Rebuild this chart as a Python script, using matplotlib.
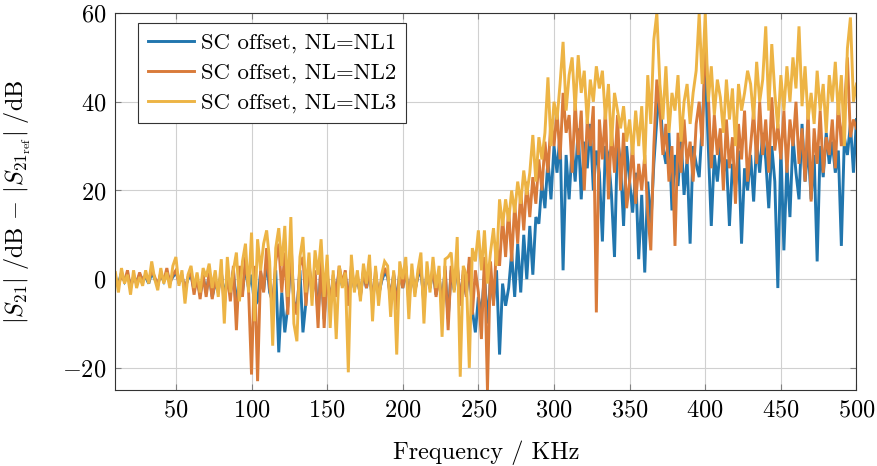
import numpy as np
import matplotlib
matplotlib.use("Agg")
import matplotlib.pyplot as plt

plt.rcParams['font.family'] = ['cmr10', 'DejaVu Serif']
plt.rcParams['mathtext.fontset'] = 'cm'
plt.rcParams['axes.formatter.use_mathtext'] = True
plt.rcParams['font.size'] = 17.5

freq = np.arange(10, 501, 2)  # KHz

nl1 = [
    0.0, -1.0, 1.5, -0.5, 1.0, -1.5, 0.5, -0.5, 1.0, 0.0,
    0.5, -1.0, 1.5, 0.0, -1.0, 1.0, -0.5, 1.5, -0.5, 0.5,
    1.5, -0.5, 0.5, -2.0, 0.0, 1.0, -2.5, 0.0, -3.5, 0.5,
    -3.0, 1.0, -4.0, -1.0, -2.5, 1.5, -4.0, 0.5, -3.0, 2.0,
    -7.0, 2.0, -3.0, 3.0, -2.0, 1.0, -6.0, -5.0, 1.5, -2.5,
    4.0, -3.0, -5.0, 2.0, -16.5, -3.0, -12.0, -6.0, 5.0, -5.0,
    -7.0, 2.0, -12.0, -5.0, 3.0, -3.0, 1.0, -8.0, 3.0, -9.0,
    1.0, -5.0, 0.0, -3.0, 2.0, -1.5, 1.0, -5.0, 2.0, -2.0,
    0.0, -3.5, 1.5, -2.0, 2.0, -5.0, 1.0, -3.5, -0.5, 1.5,
    0.5, -4.0, 1.0, -5.5, 1.5, -2.0, 2.0, -4.0, 1.0, -2.5,
    0.5, 2.0, -5.0, 1.5, -2.0, 2.0, -3.5, 0.5, -5.0, 2.0,
    -9.0, 2.0, -2.5, 3.0, -5.0, 1.0, -3.5, 3.5, -7.0, -12.0,
    -4.0, -8.0, 1.0, -10.0, 0.0, -5.0, 2.0, -17.0, -1.0, -6.0,
    -2.0, 6.0, -4.0, 8.0, -3.0, 10.0, 0.0, 12.0, 1.0, 14.0,
    12.5, 22.0, 16.0, 27.0, 18.0, 30.0, 24.0, 33.0, 2.0, 28.0,
    18.0, 30.0, 22.0, 34.0, 18.0, 31.0, 25.0, 35.0, 20.0, 29.0,
    24.0, 8.5, 30.0, 28.0, 19.0, 5.0, 32.0, 26.0, 12.0, 30.0,
    22.0, 15.0, 24.0, 4.5, 19.0, 1.5, 22.0, 12.0, 26.0, 36.0,
    42.5, 30.0, 26.0, 33.0, 15.5, 28.0, 21.0, 32.0, 19.0, 27.0,
    8.0, 30.0, 26.0, 23.0, 35.0, 48.0, 30.0, 12.0, 28.0, 22.0,
    30.0, 24.0, 27.0, 12.0, 26.0, 21.0, 29.0, 8.0, 25.0, 20.0,
    28.0, 17.5, 31.0, 24.0, 33.0, 27.0, 16.0, 30.0, 22.0, -2.0,
    30.0, 6.5, 26.0, 14.0, 32.0, 24.0, 18.0, 35.0, 22.0, 30.0,
    18.0, 28.0, 4.0, 30.0, 23.0, 33.0, 26.0, 31.0, 24.0, 29.0,
    7.5, 32.0, 28.0, 35.0, 24.0, 36.0,
]

nl2 = [
    0.5, -1.5, 1.0, -0.5, 2.0, -2.0, 0.5, -1.0, 1.5, -0.5,
    1.0, -0.5, 2.0, 0.5, -1.5, 1.5, -0.5, 2.5, -1.0, 1.0,
    2.0, -1.0, 1.0, -2.5, 0.5, 1.5, -3.5, 0.5, -4.5, 1.0,
    -4.0, 1.5, -4.5, 0.0, -3.0, 2.0, -6.0, 1.0, -5.0, 3.0,
    -11.5, 3.0, -4.0, 5.0, -2.0, -21.5, 3.0, -23.0, 2.0, -3.0,
    7.0, -2.0, -6.0, 4.0, 8.0, -3.0, 6.0, -8.0, 9.0, -5.0,
    -8.0, 3.0, 5.0, -6.0, 4.0, -4.0, 2.0, -11.0, 5.0, -11.0,
    2.0, -6.0, 1.0, -4.0, 3.0, -1.0, 2.0, -6.0, 3.0, -2.0,
    1.0, -4.0, 2.0, -2.0, 3.0, -6.0, 2.0, -4.0, 0.0, 2.5,
    1.0, -5.0, 1.5, -7.0, 2.0, -2.0, 3.0, -5.0, 2.0, -3.0,
    1.0, 3.0, -6.0, 2.0, -2.0, 3.0, -4.0, 1.0, -7.0, 3.0,
    -11.5, 3.0, -2.0, 4.0, -6.0, 2.0, -4.0, 5.0, -8.0, 2.0,
    -3.0, -13.5, 5.0, -25.0, 4.0, -6.0, 8.0, 3.0, 14.0, 5.0,
    16.0, 4.0, 17.0, 8.0, 20.0, 11.0, 22.0, 14.0, 23.0, 17.0,
    27.0, 20.0, 31.0, 24.0, 36.0, 30.0, 38.0, 27.0, 42.0, 33.0,
    37.0, 24.0, 40.0, 28.0, 38.0, 20.0, 36.0, 30.0, 39.0, -7.5,
    36.0, 27.0, 38.0, 18.0, 34.0, 24.0, 37.0, 20.0, 33.0, 16.0,
    22.0, 30.0, 17.0, 26.0, 20.0, 28.0, 15.0, 6.5, 30.0, 45.0,
    38.0, 28.0, 35.0, 22.0, 30.0, 7.5, 33.0, 24.0, 36.0, 26.0,
    31.0, 22.0, 35.0, 40.0, 30.0, 53.5, 42.0, 25.0, 37.0, 28.0,
    34.0, 20.0, 36.0, 25.0, 32.0, 17.0, 35.0, 27.0, 38.0, 22.0,
    30.0, 38.0, 26.0, 40.0, 28.0, 36.0, 24.0, 41.0, 29.0, 35.0,
    27.0, 38.0, 24.0, 36.0, 30.0, 40.0, 26.0, 34.0, 22.0, 38.0,
    17.5, 34.0, 26.0, 38.0, 24.0, 32.0, 28.0, 36.0, 25.0, 40.0,
    30.0, 38.0, 50.0, 32.0, 36.0, 34.0,
]

nl3 = [
    1.5, -3.0, 2.5, -1.0, 1.0, -3.5, 2.0, -2.0, 0.5, -1.5,
    2.0, -1.0, 4.0, 0.0, -2.5, 2.5, -1.0, 1.5, -2.0, 3.0,
    5.0, -1.5, 2.0, -5.5, 1.0, 3.0, -2.0, 1.5, -3.0, 2.5,
    0.5, 3.5, -2.0, 2.0, -4.0, 4.5, -10.0, 5.0, -3.0, 2.0,
    6.0, -5.0, 4.0, 8.0, -3.0, 10.5, -9.5, 9.0, 2.0, 8.0,
    11.0, 4.0, -15.0, 7.0, 11.5, 3.0, 12.0, -4.0, 14.0, -10.0,
    -14.0, 5.0, 9.5, -3.0, 6.0, -6.0, 6.5, 1.0, 9.0, -4.0,
    5.5, -11.0, 2.0, -13.5, 3.0, -2.0, 1.5, -21.0, 5.5, -3.0,
    2.0, -5.0, 3.5, -1.0, 5.5, -9.5, 3.0, -6.0, 1.0, 4.0,
    3.0, -8.5, 2.0, -17.0, 4.0, 0.0, 5.0, -9.0, 3.5, -4.0,
    2.0, 6.0, -10.0, 4.0, -3.0, 5.0, -2.0, 3.0, -13.0, 4.5,
    5.0, 6.0, -3.0, 9.5, -22.0, 3.0, 1.0, -20.0, 7.0, 4.0,
    11.0, 2.0, 11.0, -1.0, 6.0, 11.5, 3.0, 18.0, 12.0, 18.0,
    13.0, 20.0, 15.0, 22.0, 17.0, 24.5, 19.0, 24.0, 32.5, 22.0,
    32.0, 27.0, 33.0, 45.5, 30.0, 40.0, 36.0, 44.0, 53.5, 38.0,
    46.0, 50.0, 38.0, 50.5, 42.0, 47.0, 35.0, 45.0, 40.0, 48.0,
    43.0, 47.0, 36.0, 44.0, 30.0, 42.0, 38.0, 34.0, 39.0, 31.0,
    36.0, 28.0, 38.0, 30.0, 39.0, 26.0, 46.0, 35.0, 54.0, 60.0,
    44.0, 36.0, 48.0, 33.0, 42.0, 38.0, 46.0, 31.0, 40.0, 44.0,
    35.0, 42.0, 47.0, 60.0, 44.0, 60.0, 40.0, 48.0, 37.0, 45.0,
    41.0, 33.0, 45.0, 36.0, 43.0, 30.0, 44.0, 38.0, 42.0, 47.0,
    44.0, 36.0, 49.0, 40.0, 45.0, 57.0, 38.0, 53.0, 42.0, 34.0,
    46.0, 38.0, 48.0, 40.0, 50.0, 43.0, 57.0, 39.0, 48.0, 36.0,
    42.0, 35.0, 47.0, 38.0, 44.0, 33.0, 46.0, 40.0, 49.0, 37.0,
    46.0, 30.0, 52.0, 59.0, 40.0, 44.0,
]

labels = ["SC offset, NL=NL1", "SC offset, NL=NL2", "SC offset, NL=NL3"]
colors = ["#2176AE", "#D97B3A", "#EDB445"]
xticks = [50, 100, 150, 200, 250, 300, 350, 400, 450, 500]
yticks = [-20, 0, 20, 40, 60]

fig = plt.figure(figsize=(8.77, 4.66), dpi=100)
ax = fig.add_axes([0.1316, 0.163, 0.845, 0.809])

for series, lab, col in zip([nl1, nl2, nl3], labels, colors):
    ax.plot(freq, series, color=col, lw=2.1, label=lab, solid_joinstyle='miter')

ax.set_xlim(10, 500)
ax.set_ylim(-25, 60)
ax.set_xticks(xticks)
ax.set_yticks(yticks)
ax.grid(True, color='#d0d0d0', lw=0.8)
ax.set_axisbelow(True)
ax.tick_params(direction='in', length=4, color='#808080', labelsize=17.5,
               pad=6.5, top=True, right=True)
for s in ax.spines.values():
    s.set_color('#333333')
    s.set_linewidth(0.8)

ax.set_xlabel("Frequency / KHz", fontsize=17.5)
ax.xaxis.set_label_coords(0.5, -0.133)
ax.set_ylabel(r"$|S_{21}|\ /\mathrm{dB}\,-\,|S_{21_{\mathrm{ref}}}|\ /\mathrm{dB}$",
              fontsize=17.5)
ax.yaxis.set_label_coords(-0.111, 0.5)

leg = ax.legend(loc='upper left', bbox_to_anchor=(0.0308, 0.9745), borderaxespad=0,
                fancybox=False, framealpha=1, edgecolor='#333333',
                handlelength=2.0, handletextpad=0.3, labelspacing=0.42,
                borderpad=0.45, fontsize=16.4)
leg.get_frame().set_linewidth(0.8)

fig.savefig("out.png", dpi=100)
